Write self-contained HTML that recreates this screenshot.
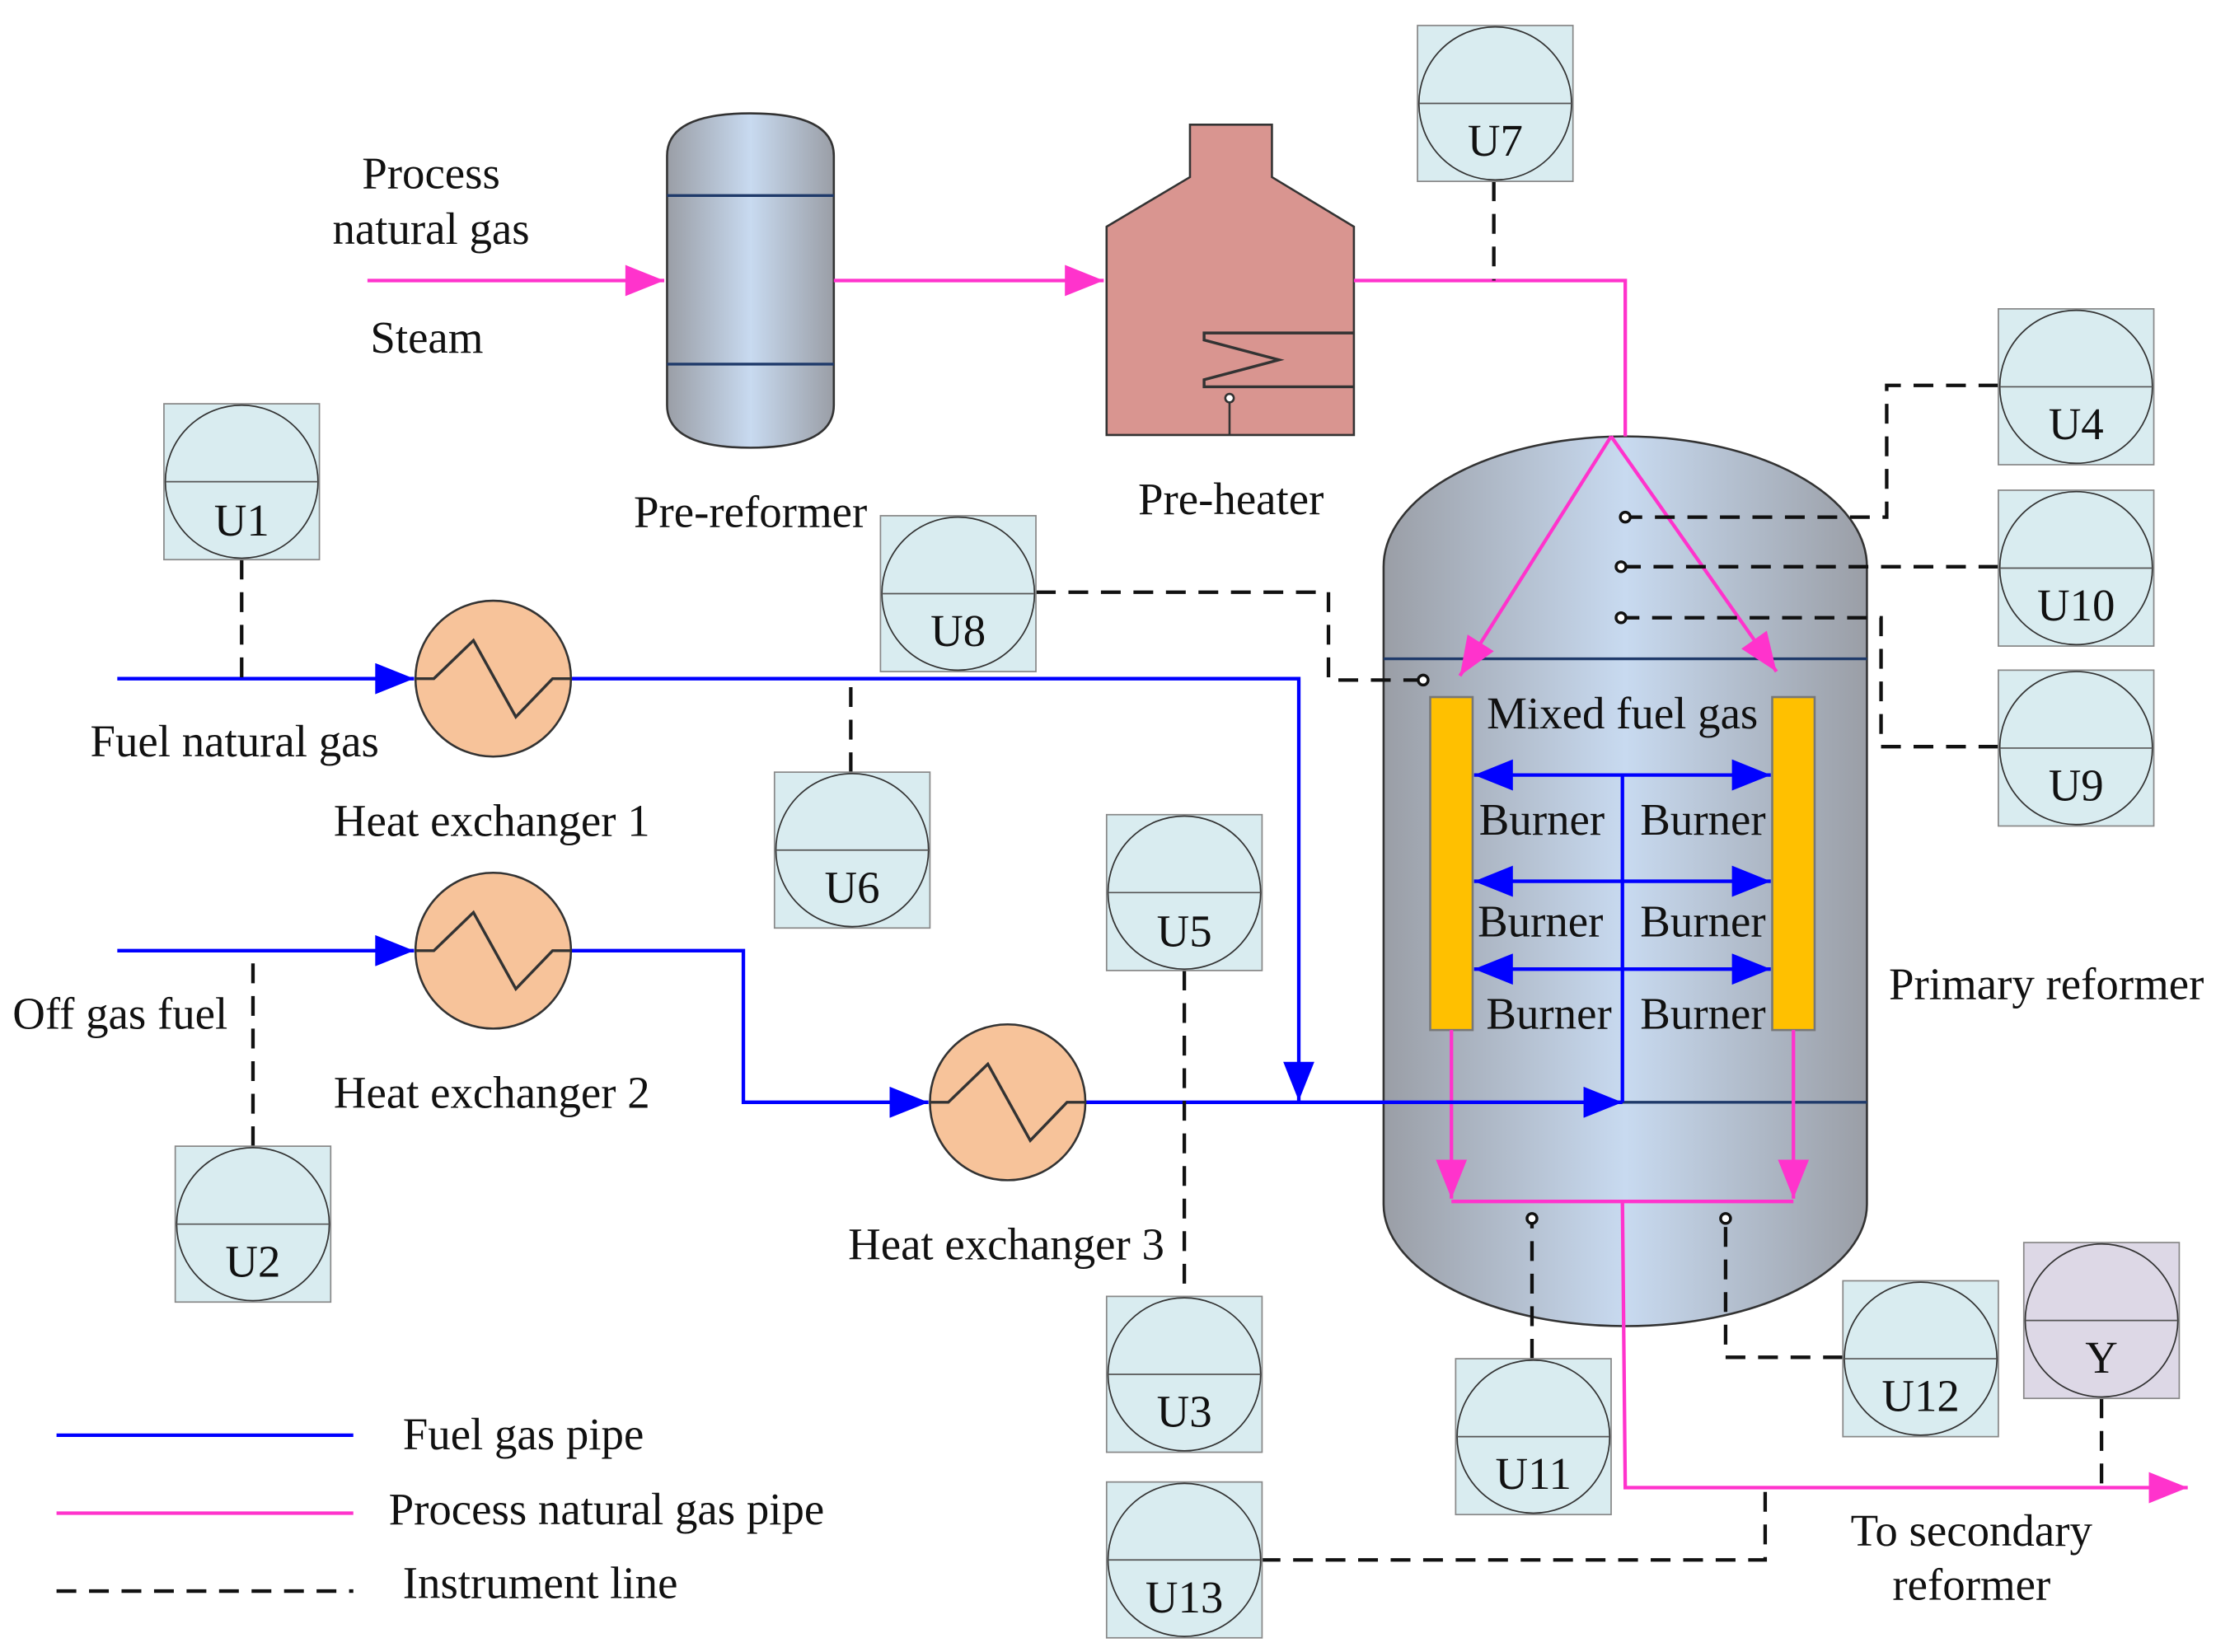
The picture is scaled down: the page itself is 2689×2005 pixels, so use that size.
<!DOCTYPE html>
<html><head><meta charset="utf-8"><style>
html,body{margin:0;padding:0;background:#fff;}
svg{display:block;}
text{font-family:"Liberation Serif",serif;font-size:32px;fill:#111;}
</style></head><body>
<svg width="2689" height="2005" viewBox="0 0 1568 1166" preserveAspectRatio="none" xmlns="http://www.w3.org/2000/svg">
<defs>
<linearGradient id="cyl" x1="0" x2="1" y1="0" y2="0">
<stop offset="0" stop-color="#9a9ea6"/><stop offset="0.5" stop-color="#c8daf0"/><stop offset="1" stop-color="#9a9ea6"/>
</linearGradient>
<marker id="pa" viewBox="0 0 10 8" markerWidth="32" markerHeight="22" refX="10" refY="4" orient="auto" markerUnits="userSpaceOnUse"><path d="M0,0 L10,4 L0,8z" fill="#ff33cc"/></marker>
<marker id="ba" viewBox="0 0 10 8" markerWidth="32" markerHeight="22" refX="10" refY="4" orient="auto" markerUnits="userSpaceOnUse"><path d="M0,0 L10,4 L0,8z" fill="#0000ff"/></marker>
<marker id="bs" viewBox="0 0 10 8" markerWidth="32" markerHeight="22" refX="0" refY="4" orient="auto" markerUnits="userSpaceOnUse"><path d="M10,0 L0,4 L10,8z" fill="#0000ff"/></marker>
<g id="inst"><rect x="0" y="0" width="110" height="110" fill="#d9ecf0" stroke="#888" stroke-width="1"/><circle cx="55" cy="55" r="54" fill="none" stroke="#333" stroke-width="1"/><line x1="1" y1="55" x2="109" y2="55" stroke="#555" stroke-width="1"/></g>
<g id="hx"><circle cx="0" cy="0" r="55" fill="#f7c39a" stroke="#333" stroke-width="1.5"/><polyline points="-55,0 -42,0 -14,-27 16,27 42,0 55,0" fill="none" stroke="#333" stroke-width="2"/></g>
</defs>

<path d="M472,110 Q472,80 531,80 Q590,80 590,110 L590,286 Q590,316 531,316 Q472,316 472,286 Z" fill="url(#cyl)" stroke="#333" stroke-width="1.5"/>
<line x1="472" y1="138" x2="590" y2="138" stroke="#1f3a6a" stroke-width="2"/>
<line x1="472" y1="257" x2="590" y2="257" stroke="#1f3a6a" stroke-width="2"/>

<path d="M842,88 L900,88 L900,125 L958,160 L958,307 L783,307 L783,160 L842,125 Z" fill="#d99590" stroke="#333" stroke-width="1.5"/>
<polyline points="958,235 852,235 852,240 905,254 852,268 852,273 958,273" fill="none" stroke="#333" stroke-width="2"/>
<line x1="870" y1="284" x2="870" y2="307" stroke="#333" stroke-width="1.5"/>
<circle cx="870" cy="281" r="3" fill="#fff" stroke="#333" stroke-width="1.5"/>

<path d="M979,400 A171,92 0 0 1 1321,400 L1321,850 A171,86 0 0 1 979,850 Z" fill="url(#cyl)" stroke="#333" stroke-width="1.5"/>
<line x1="979" y1="465" x2="1321" y2="465" stroke="#1f3a6a" stroke-width="2"/>
<line x1="979" y1="778" x2="1321" y2="778" stroke="#1f3a6a" stroke-width="2"/>
<rect x="1012" y="492" width="30" height="235" fill="#ffc000" stroke="#777" stroke-width="1.5"/>
<rect x="1254" y="492" width="30" height="235" fill="#ffc000" stroke="#777" stroke-width="1.5"/>

<g stroke="#ff33cc" stroke-width="2.5" fill="none">
<line x1="260" y1="198" x2="470" y2="198" marker-end="url(#pa)"/>
<line x1="590" y1="198" x2="781" y2="198" marker-end="url(#pa)"/>
<polyline points="958,198 1150,198 1150,308"/>
<polyline points="1140,308 1033,477" marker-end="url(#pa)"/>
<polyline points="1140,308 1257,474" marker-end="url(#pa)"/>
<line x1="1027" y1="727" x2="1027" y2="846" marker-end="url(#pa)"/>
<line x1="1269" y1="727" x2="1269" y2="846" marker-end="url(#pa)"/>
<line x1="1027" y1="848" x2="1269" y2="848"/>
<polyline points="1148,848 1150,1050 1548,1050" marker-end="url(#pa)"/>
</g>

<g stroke="#0000ff" stroke-width="2.5" fill="none">
<line x1="83" y1="479" x2="293" y2="479" marker-end="url(#ba)"/>
<polyline points="404,479 919,479 919,777" marker-end="url(#ba)"/>
<line x1="83" y1="671" x2="293" y2="671" marker-end="url(#ba)"/>
<polyline points="404,671 526,671 526,778 657,778" marker-end="url(#ba)"/>
<line x1="768" y1="778" x2="1148" y2="778" marker-end="url(#ba)"/>
<line x1="1148" y1="547" x2="1148" y2="778"/>
<line x1="1043" y1="547" x2="1253" y2="547" marker-start="url(#bs)" marker-end="url(#ba)"/>
<line x1="1043" y1="622" x2="1253" y2="622" marker-start="url(#bs)" marker-end="url(#ba)"/>
<line x1="1043" y1="684" x2="1253" y2="684" marker-start="url(#bs)" marker-end="url(#ba)"/>
</g>

<use href="#hx" x="349" y="479"/>
<use href="#hx" x="349" y="671"/>
<use href="#hx" x="713" y="778"/>

<g stroke="#111" stroke-width="2.5" fill="none" stroke-dasharray="14,9">
<line x1="171" y1="395" x2="171" y2="479"/>
<line x1="179" y1="809" x2="179" y2="671"/>
<line x1="602" y1="545" x2="602" y2="479"/>
<line x1="838" y1="685" x2="838" y2="915"/>
<line x1="1057" y1="128" x2="1057" y2="198"/>
<polyline points="733,418 940,418 940,480 1004,480"/>
<polyline points="1414,272 1335,272 1335,365 1153,365"/>
<line x1="1414" y1="400" x2="1150" y2="400"/>
<polyline points="1414,527 1331,527 1331,436 1150,436"/>
<line x1="1084" y1="959" x2="1084" y2="863"/>
<polyline points="1304,958 1221,958 1221,863"/>
<polyline points="892,1101 1249,1101 1249,1050"/>
<line x1="1487" y1="987" x2="1487" y2="1050"/>
</g>
<g fill="#fff" stroke="#111" stroke-width="2">
<circle cx="1007" cy="480" r="3.5"/><circle cx="1150" cy="365" r="3.5"/><circle cx="1147" cy="400" r="3.5"/><circle cx="1147" cy="436" r="3.5"/>
<circle cx="1084" cy="860" r="3.5"/><circle cx="1221" cy="860" r="3.5"/>
</g>

<use href="#inst" x="116" y="285"/><text x="171" y="378" text-anchor="middle">U1</text>
<use href="#inst" x="124" y="809"/><text x="179" y="901" text-anchor="middle">U2</text>
<use href="#inst" x="783" y="915"/><text x="838" y="1007" text-anchor="middle">U3</text>
<use href="#inst" x="1414" y="218"/><text x="1469" y="310" text-anchor="middle">U4</text>
<use href="#inst" x="783" y="575"/><text x="838" y="668" text-anchor="middle">U5</text>
<use href="#inst" x="548" y="545"/><text x="603" y="637" text-anchor="middle">U6</text>
<use href="#inst" x="1003" y="18"/><text x="1058" y="110" text-anchor="middle">U7</text>
<use href="#inst" x="623" y="364"/><text x="678" y="456" text-anchor="middle">U8</text>
<use href="#inst" x="1414" y="473"/><text x="1469" y="565" text-anchor="middle">U9</text>
<use href="#inst" x="1414" y="346"/><text x="1469" y="438" text-anchor="middle">U10</text>
<use href="#inst" x="1030" y="959"/><text x="1085" y="1051" text-anchor="middle">U11</text>
<use href="#inst" x="1304" y="904"/><text x="1359" y="996" text-anchor="middle">U12</text>
<use href="#inst" x="783" y="1046"/><text x="838" y="1138" text-anchor="middle">U13</text>
<rect x="1432" y="877" width="110" height="110" fill="#ddd8e6" stroke="#888"/><circle cx="1487" cy="932" r="54" fill="none" stroke="#333"/><line x1="1433" y1="932" x2="1541" y2="932" stroke="#555"/>
<text x="1487" y="969" text-anchor="middle">Y</text>

<text x="305" y="133" text-anchor="middle">Process</text>
<text x="305" y="172" text-anchor="middle">natural gas</text>
<text x="302" y="249" text-anchor="middle">Steam</text>
<text x="531" y="372" text-anchor="middle">Pre-reformer</text>
<text x="871" y="363" text-anchor="middle">Pre-heater</text>
<text x="166" y="534" text-anchor="middle">Fuel natural gas</text>
<text x="348" y="590" text-anchor="middle">Heat exchanger 1</text>
<text x="85" y="726" text-anchor="middle">Off gas fuel</text>
<text x="348" y="782" text-anchor="middle">Heat exchanger 2</text>
<text x="712" y="889" text-anchor="middle">Heat exchanger 3</text>
<text x="1148" y="514" text-anchor="middle">Mixed fuel gas</text>
<text x="1091" y="589" text-anchor="middle">Burner</text>
<text x="1205" y="589" text-anchor="middle">Burner</text>
<text x="1090" y="661" text-anchor="middle">Burner</text>
<text x="1205" y="661" text-anchor="middle">Burner</text>
<text x="1096" y="726" text-anchor="middle">Burner</text>
<text x="1205" y="726" text-anchor="middle">Burner</text>
<text x="1448" y="705" text-anchor="middle">Primary reformer</text>
<text x="1395" y="1091" text-anchor="middle">To secondary</text>
<text x="1395" y="1129" text-anchor="middle">reformer</text>

<line x1="40" y1="1013" x2="250" y2="1013" stroke="#0000ff" stroke-width="2.5"/>
<line x1="40" y1="1068" x2="250" y2="1068" stroke="#ff33cc" stroke-width="2.5"/>
<line x1="40" y1="1123" x2="250" y2="1123" stroke="#111" stroke-width="2.5" stroke-dasharray="14,9"/>
<text x="285" y="1023">Fuel gas pipe</text>
<text x="275" y="1076">Process natural gas pipe</text>
<text x="285" y="1128">Instrument line</text>
</svg>
</body></html>
